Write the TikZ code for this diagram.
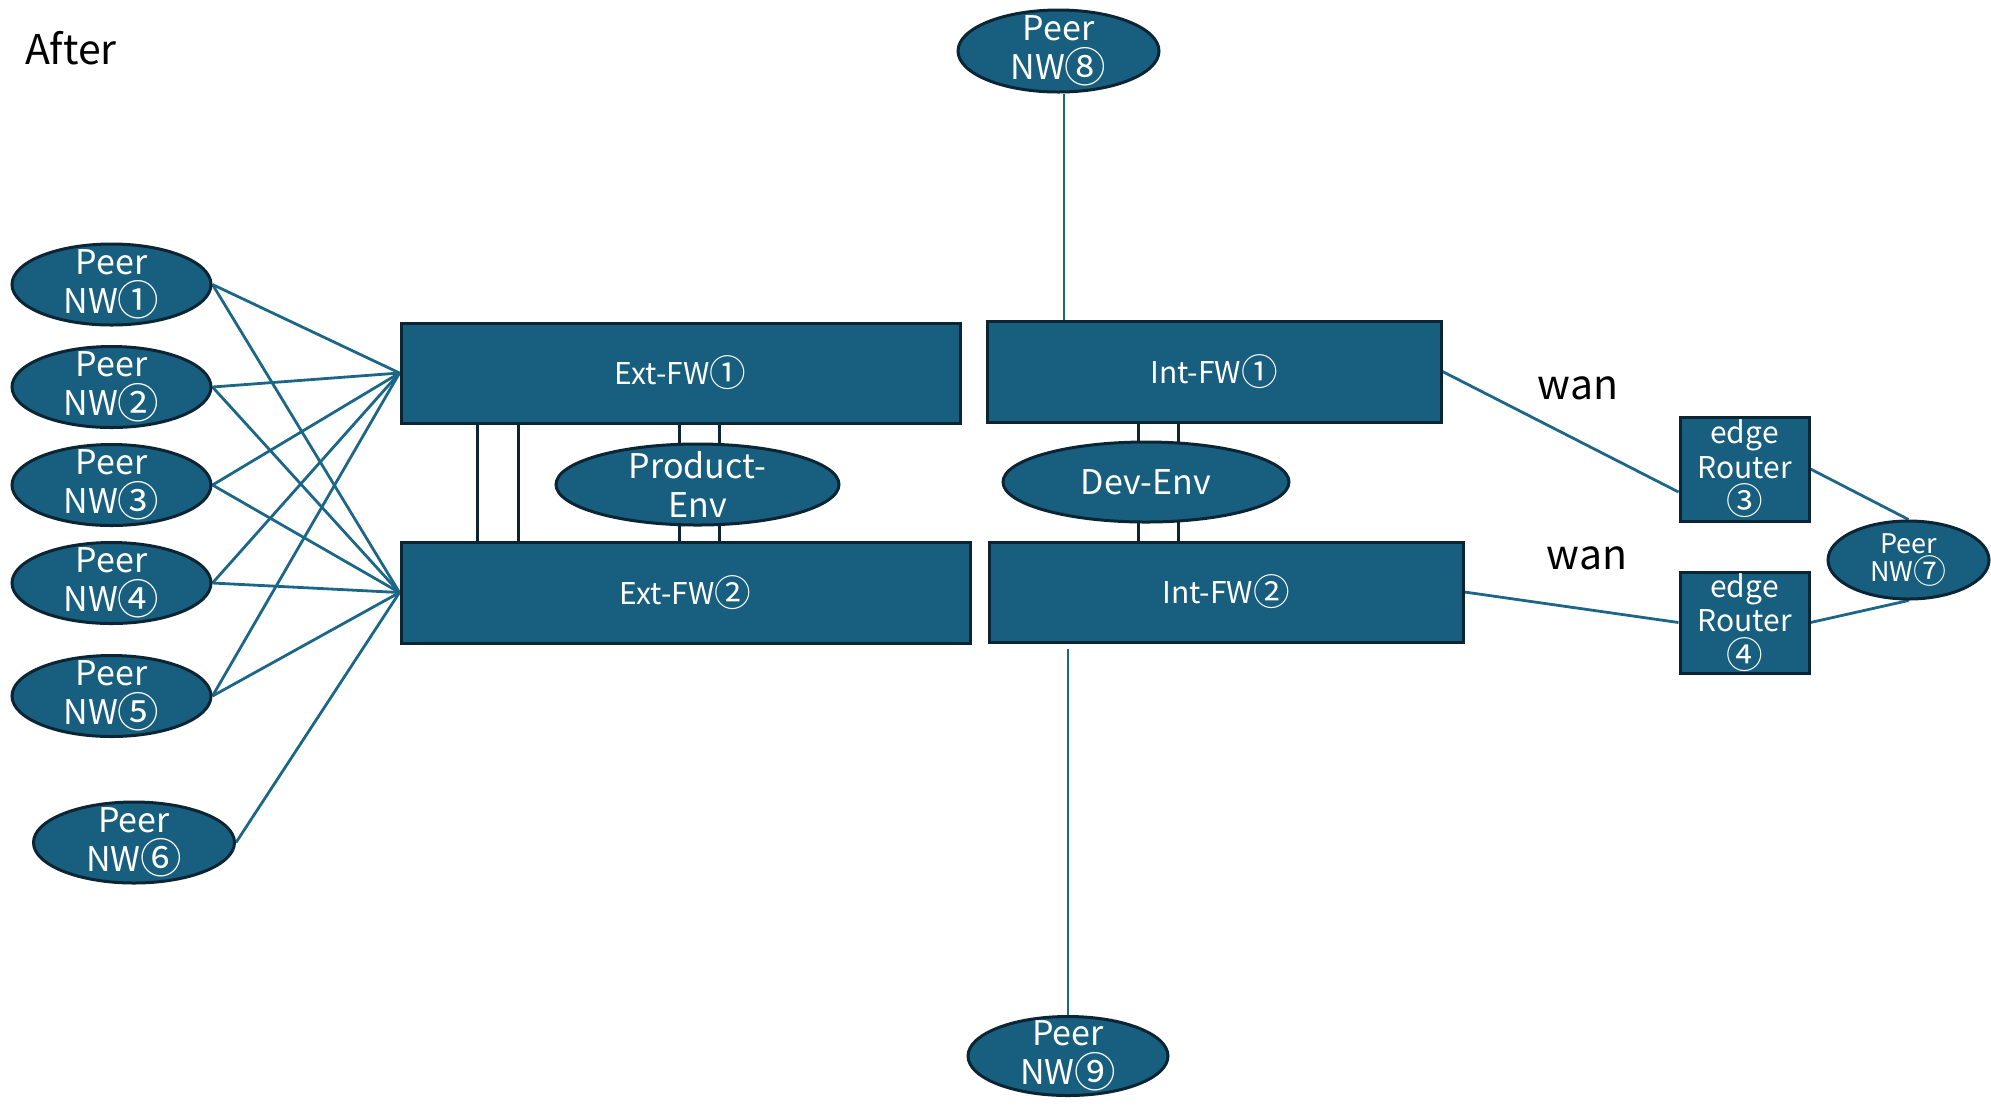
\documentclass[tikz,border=0pt]{standalone}
\usepackage{fontspec}
\setmainfont{Noto Sans CJK JP}
\usetikzlibrary{shapes.geometric,backgrounds}
\definecolor{fillc}{HTML}{185F7F}
\definecolor{edgec}{HTML}{0C2535}
\definecolor{linec}{HTML}{1C6788}
\newcommand{\circnum}[1]{{\fontsize{1.22\dimexpr\csname f@size\endcsname pt\relax}{0pt}\selectfont\raisebox{-0.06em}{#1}}}
\begin{document}
\begin{tikzpicture}[x=0.5pt,y=-0.5pt,
  box/.style={draw=edgec, fill=fillc, line width=1.5pt, text=white, inner sep=0pt, align=center},
  fw/.style={box, rectangle, font=\fontsize{15}{18}\selectfont},
  router/.style={box, rectangle, font=\fontsize{15}{17.25}\selectfont, minimum width=64.5pt},
  peer/.style={box, ellipse},
  ptext/.style={text=white, inner sep=0pt, align=center, font=\fontsize{17}{19.5}\selectfont},
  stext/.style={text=white, inner sep=0pt, align=center, font=\fontsize{13.5}{14}\selectfont},
  big/.style={inner sep=0pt, text=black, font=\fontsize{20.5}{24}\selectfont},
  conn/.style={draw=linec, line width=1.4pt},
  pair/.style={draw=edgec, line width=1.5pt}]
\useasboundingbox (0,0) rectangle (1991,1116);

% firewalls
\node[fw, minimum width=279.5pt, minimum height=50pt] (E1) at (680.5,373) {Ext-FW\circnum{①}};
\node[fw, minimum width=284.5pt, minimum height=50.5pt] (E2) at (685.5,592.5) {Ext-FW\circnum{②}};
\node[fw, minimum width=227pt, minimum height=50.5pt] (I1) at (1214,371.5) {Int-FW\circnum{①}};
\node[fw, minimum width=237pt, minimum height=50pt] (I2) at (1226,592) {Int-FW\circnum{②}};

% edge routers
\node[router, minimum height=52pt] (R3) at (1744.5,469) {edge\\Router\\\circnum{③}};
\node[router, minimum height=50.5pt] (R4) at (1744.5,622.5) {edge\\Router\\\circnum{④}};

% peer networks
\foreach \i/\y/\c in {1/284.5/①,2/387/②,3/485/③,4/583/④,5/696/⑤}{
  \node[peer, minimum width=99.5pt, minimum height=40.5pt,
        label={[ptext]center:Peer\\NW\circnum{\c}}] (N\i) at (111.5,\y) {};
}
\node[peer, minimum width=100.5pt, minimum height=40.5pt,
      label={[ptext]center:Peer\\NW\circnum{⑥}}] (N6) at (134,842.5) {};
\node[peer, minimum width=80.5pt, minimum height=39pt,
      label={[stext]center:Peer\\NW\circnum{⑦}}] (N7) at (1908.5,560) {};
\node[peer, minimum width=100.5pt, minimum height=41pt,
      label={[ptext]center:Peer\\NW\circnum{⑧}}] (N8) at (1058.5,51) {};
\node[peer, minimum width=100pt, minimum height=39.5pt,
      label={[ptext]center:Peer\\NW\circnum{⑨}}] (N9) at (1068,1056) {};

% environments
\node[peer, minimum width=141.5pt, minimum height=40.5pt,
      label={[ptext]center:Product-\\Env}] (PE) at (697.5,484.5) {};
\node[peer, minimum width=143pt, minimum height=40pt,
      label={[ptext]center:Dev-Env}] (DE) at (1146,482) {};

% texts
\node[big, anchor=base west] (after) at (25,64) {After};
\node[big, anchor=base] (wan1) at (1578,399) {wan};
\node[big, anchor=base] (wan2) at (1587,569) {wan};

% helper coordinates
\coordinate (v8) at (1064,0);
\coordinate (t9) at (1068,649);
\coordinate (p1) at (477,0);
\coordinate (p2) at (518,0);
\coordinate (p3) at (679,0);
\coordinate (p4) at (719,0);
\coordinate (p5) at (1138,0);
\coordinate (p6) at (1178,0);

\begin{scope}[on background layer]
  \foreach \i in {1,...,5}{
    \draw[conn] (N\i.east) -- (E1.west);
    \draw[conn] (N\i.east) -- (E2.west);
  }
  \draw[conn] (N6.east) -- (E2.west);
  \draw[conn] (v8 |- N8.south) -- (v8 |- I1.north);
  \draw[conn] (t9) -- (N9.north);
  \draw[conn] (I1.east) -- ([yshift=-11.5pt]R3.west);
  \draw[conn] (I2.east) -- (R4.west);
  \draw[conn] (R3.east) -- (N7.north);
  \draw[conn] (R4.east) -- (N7.south);
  \foreach \p in {p1,p2,p3,p4}{
    \draw[pair] (\p |- E1.south) -- (\p |- E2.north);
  }
  \foreach \p in {p5,p6}{
    \draw[pair] (\p |- I1.south) -- (\p |- I2.north);
  }
\end{scope}
\end{tikzpicture}
\end{document}
